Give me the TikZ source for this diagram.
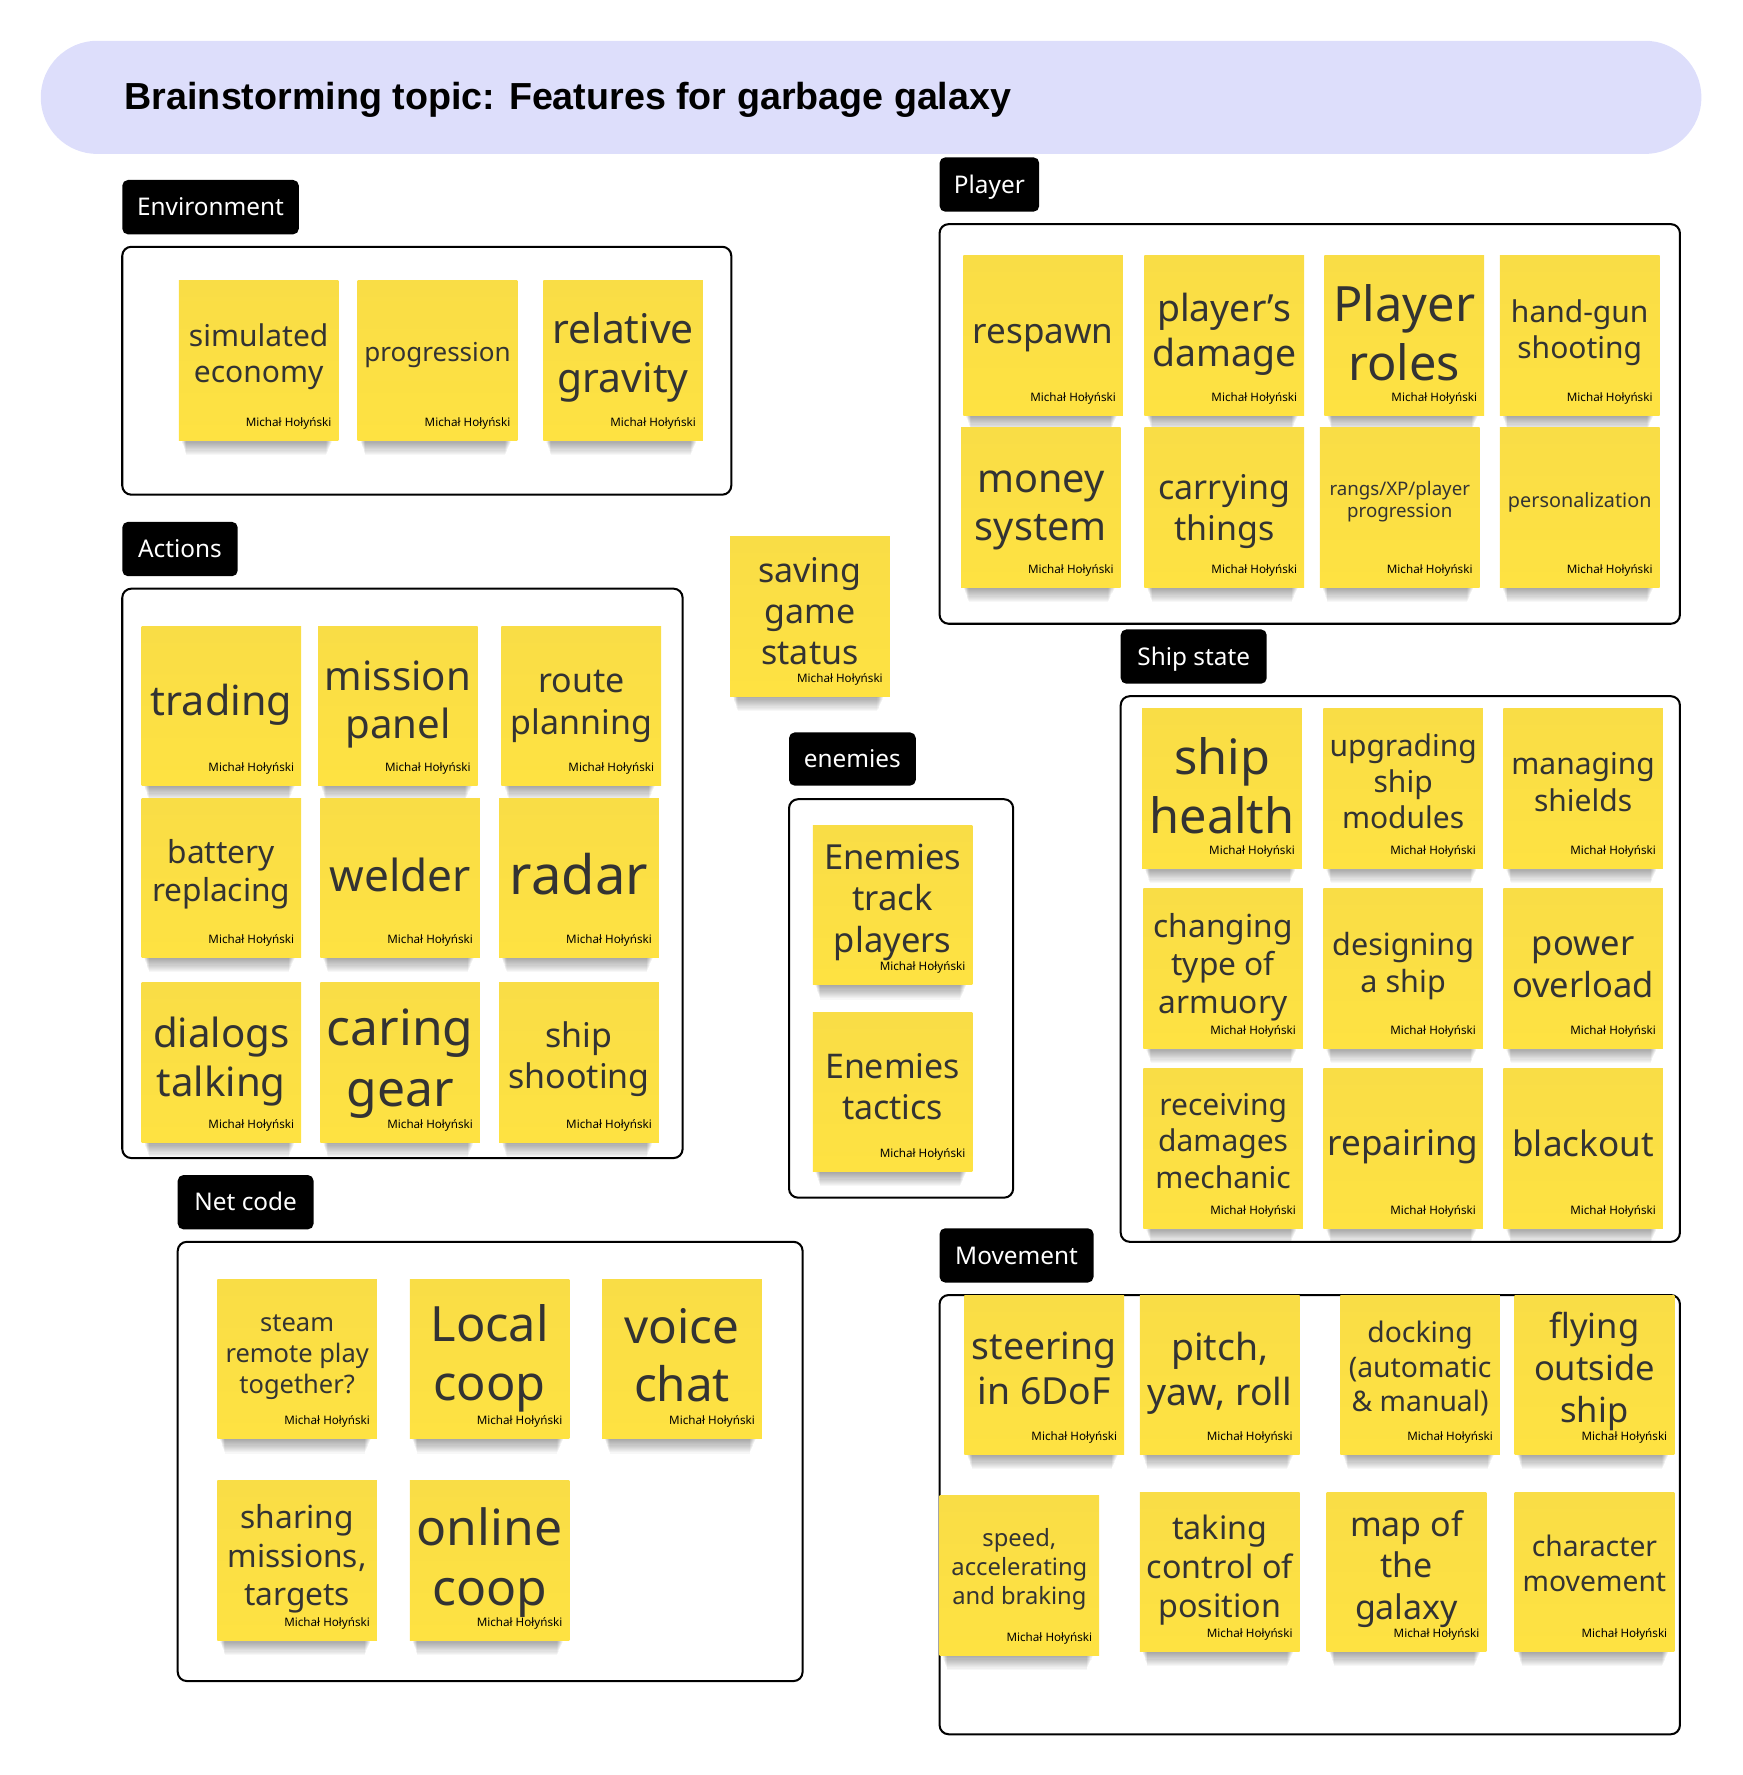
\documentclass[tikz,border=0pt]{standalone}
\usepackage{graphicx}
\usepackage{fontspec}
\setmainfont{Noto Sans}
\newfontfamily\titlefont{Liberation Sans}
\definecolor{bannerfill}{RGB}{221,222,251}
\definecolor{ink}{RGB}{51,51,51}
\definecolor{noteTop}{RGB}{249,221,70}
\definecolor{noteBottom}{RGB}{254,226,66}
\pgfdeclarelayer{bg}
\pgfdeclarelayer{shade}
\pgfsetlayers{bg,shade,main}

% sticky note: name, left x, top y, font size, text centre y, text
\newcommand\stickynote[6]{%
  \begin{pgfonlayer}{shade}
    \foreach \k in {1,...,13}{
      \fill[black,opacity=0.032]
        ({#2+2+0.35*\k},{#3+120}) rectangle ({#2+141-5-0.45*\k},{#3+141+\k});
    }
  \end{pgfonlayer}
  \node[sticky,anchor=north west] (#1) at (#2,#3) {};
  \node[notetext,font=\fontsize{#4}{\fpeval{1.21*#4}}\selectfont] (#1-text) at ({#2+70.5},#5) {#6};
  \node[author] (#1-author) at ({#2+135},{#3+126}) {Michał Hołyński};
}

\begin{document}
\begin{tikzpicture}[x=1pt,y=-1pt,
  sticky/.style={minimum width=141,minimum height=141,inner sep=0,outer sep=0,
    top color=noteTop,bottom color=noteBottom,draw=none},
  notetext/.style={text=ink,align=center,inner sep=0},
  author/.style={anchor=east,inner sep=0,text=black,font=\fontsize{10.3}{12}\selectfont},
  groupframe/.style={draw=black,line width=1.8,rounded corners=8,inner sep=0,outer sep=0},
  tagbox/.style={fill=black,text=white,rounded corners=5,minimum height=48,inner sep=0,
    text height=15.4pt,text depth=0pt,font=\fontsize{21.5}{26}\selectfont},
]
\useasboundingbox (0,0) rectangle (1539,1568);

% title banner
\begin{pgfonlayer}{bg}
\node[fill=bannerfill,rounded corners=50,minimum width=1467,minimum height=100,inner sep=0] (banner) at (769.5,86) {};
% group frames
\node[groupframe,minimum width=538,minimum height=219] (envframe) at (377,327.5) {};
\node[groupframe,minimum width=654,minimum height=353] (playerframe) at (1157,374.5) {};
\node[groupframe,minimum width=495,minimum height=503] (actionsframe) at (355.5,771.5) {};
\node[groupframe,minimum width=198,minimum height=352] (enemiesframe) at (796,882) {};
\node[groupframe,minimum width=552,minimum height=388] (netframe) at (433,1291) {};
\node[groupframe,minimum width=494,minimum height=482] (shipframe) at (1237,856) {};
\node[groupframe,minimum width=654,minimum height=388] (moveframe) at (1157,1338) {};
\end{pgfonlayer}
\node[anchor=west,inner sep=0] (title) at (110,88)
  {\resizebox{783pt}{!}{\titlefont\bfseries Brainstorming topic: Features for garbage galaxy}};

% group tags
\node[tagbox,minimum width=156] (envtag) at (186,183) {Environment};
\node[tagbox,minimum width=88] (playertag) at (874,163) {Player};
\node[tagbox,minimum width=102] (actionstag) at (159,485) {Actions};
\node[tagbox,minimum width=112,minimum height=47] (enemiestag) at (753,670.5) {enemies};
\node[tagbox,minimum width=120] (nettag) at (217,1062) {Net code};
\node[tagbox,minimum width=129] (shiptag) at (1054.5,580) {Ship state};
\node[tagbox,minimum width=136] (movetag) at (898,1109) {Movement};

% Environment
\stickynote{economy}{158}{248}{26.5}{315}{simulated\\economy}
\stickynote{progression}{316}{248}{23}{314}{progression}
\stickynote{gravity}{480}{248}{36}{315.5}{relative\\gravity}

% Player
\stickynote{respawn}{851}{226}{31}{299}{respawn}
\stickynote{damage}{1011}{226}{33}{295}{player's\\damage}
\stickynote{roles}{1170}{226}{43}{294}{Player\\roles}
\stickynote{handgun}{1325}{226}{26.5}{294}{hand-gun\\shooting}
\stickynote{money}{849}{378}{35}{451}{money\\system}
\stickynote{carrying}{1011}{378}{30}{452}{carrying\\things}
\stickynote{rangs}{1166}{378}{16.5}{443}{rangs/XP/player\\progression}
\stickynote{personal}{1325}{378}{17.5}{444}{personalization}

% loose note
\stickynote{saving}{645}{474}{30}{540}{saving\\game\\status}

% Actions
\stickynote{trading}{125}{553}{36.5}{623}{trading}
\stickynote{mission}{281}{553}{35.5}{622.5}{mission\\panel}
\stickynote{route}{443}{553}{30}{624}{route\\planning}
\stickynote{battery}{125}{705}{28}{772.5}{battery\\replacing}
\stickynote{welder}{283}{705}{39}{773}{welder}
\stickynote{radar}{441}{705}{48}{772}{radar}
\stickynote{dialogs}{125}{868}{35.5}{937.5}{dialogs\\talking}
\stickynote{caring}{283}{868}{44}{939.5}{caring\\gear}
\stickynote{shipshoot}{441}{868}{30}{936}{ship\\shooting}

% enemies
\stickynote{track}{718}{729}{30.5}{797}{Enemies\\track\\players}
\stickynote{tactics}{718}{894}{30}{960}{Enemies\\tactics}

% Net code
\stickynote{steam}{192}{1130}{22.5}{1199}{steam\\remote play\\together?}
\stickynote{local}{362}{1130}{43}{1200}{Local\\coop}
\stickynote{voice}{532}{1130}{42}{1197}{voice\\chat}
\stickynote{sharing}{192}{1308}{28}{1377}{sharing\\missions,\\targets}
\stickynote{online}{362}{1308}{44}{1380}{online\\coop}

% Ship state
\stickynote{health}{1009}{626}{43}{694}{ship\\health}
\stickynote{upgrading}{1169}{626}{26.5}{690}{upgrading\\ship\\modules}
\stickynote{shields}{1328}{626}{26.5}{691}{managing\\shields}
\stickynote{armoury}{1010}{785}{28}{854.5}{changing\\type of\\armuory}
\stickynote{designing}{1169}{785}{27}{853.5}{designing\\a ship}
\stickynote{overload}{1328}{785}{30.5}{854.5}{power\\overload}
\stickynote{receiving}{1010}{944}{26.5}{1008}{receiving\\damages\\mechanic}
\stickynote{repairing}{1169}{944}{31}{1013}{repairing}
\stickynote{blackout}{1328}{944}{31}{1010}{blackout}

% Movement
\stickynote{steering}{852}{1144}{33}{1209}{steering\\in 6DoF}
\stickynote{pitch}{1007}{1144}{33}{1213}{pitch,\\yaw, roll}
\stickynote{docking}{1184}{1144}{25}{1209}{docking\\(automatic\\\& manual)}
\stickynote{flying}{1338}{1144}{30.5}{1211.5}{flying\\outside\\ship}
\stickynote{speed}{830}{1321}{21}{1386.5}{speed,\\accelerating\\and braking}
\stickynote{control}{1007}{1318}{28.5}{1387}{taking\\control of\\position}
\stickynote{galaxymap}{1172}{1318}{30}{1386}{map of\\the\\galaxy}
\stickynote{character}{1338}{1318}{25}{1381}{character\\movement}
\end{tikzpicture}
\end{document}
